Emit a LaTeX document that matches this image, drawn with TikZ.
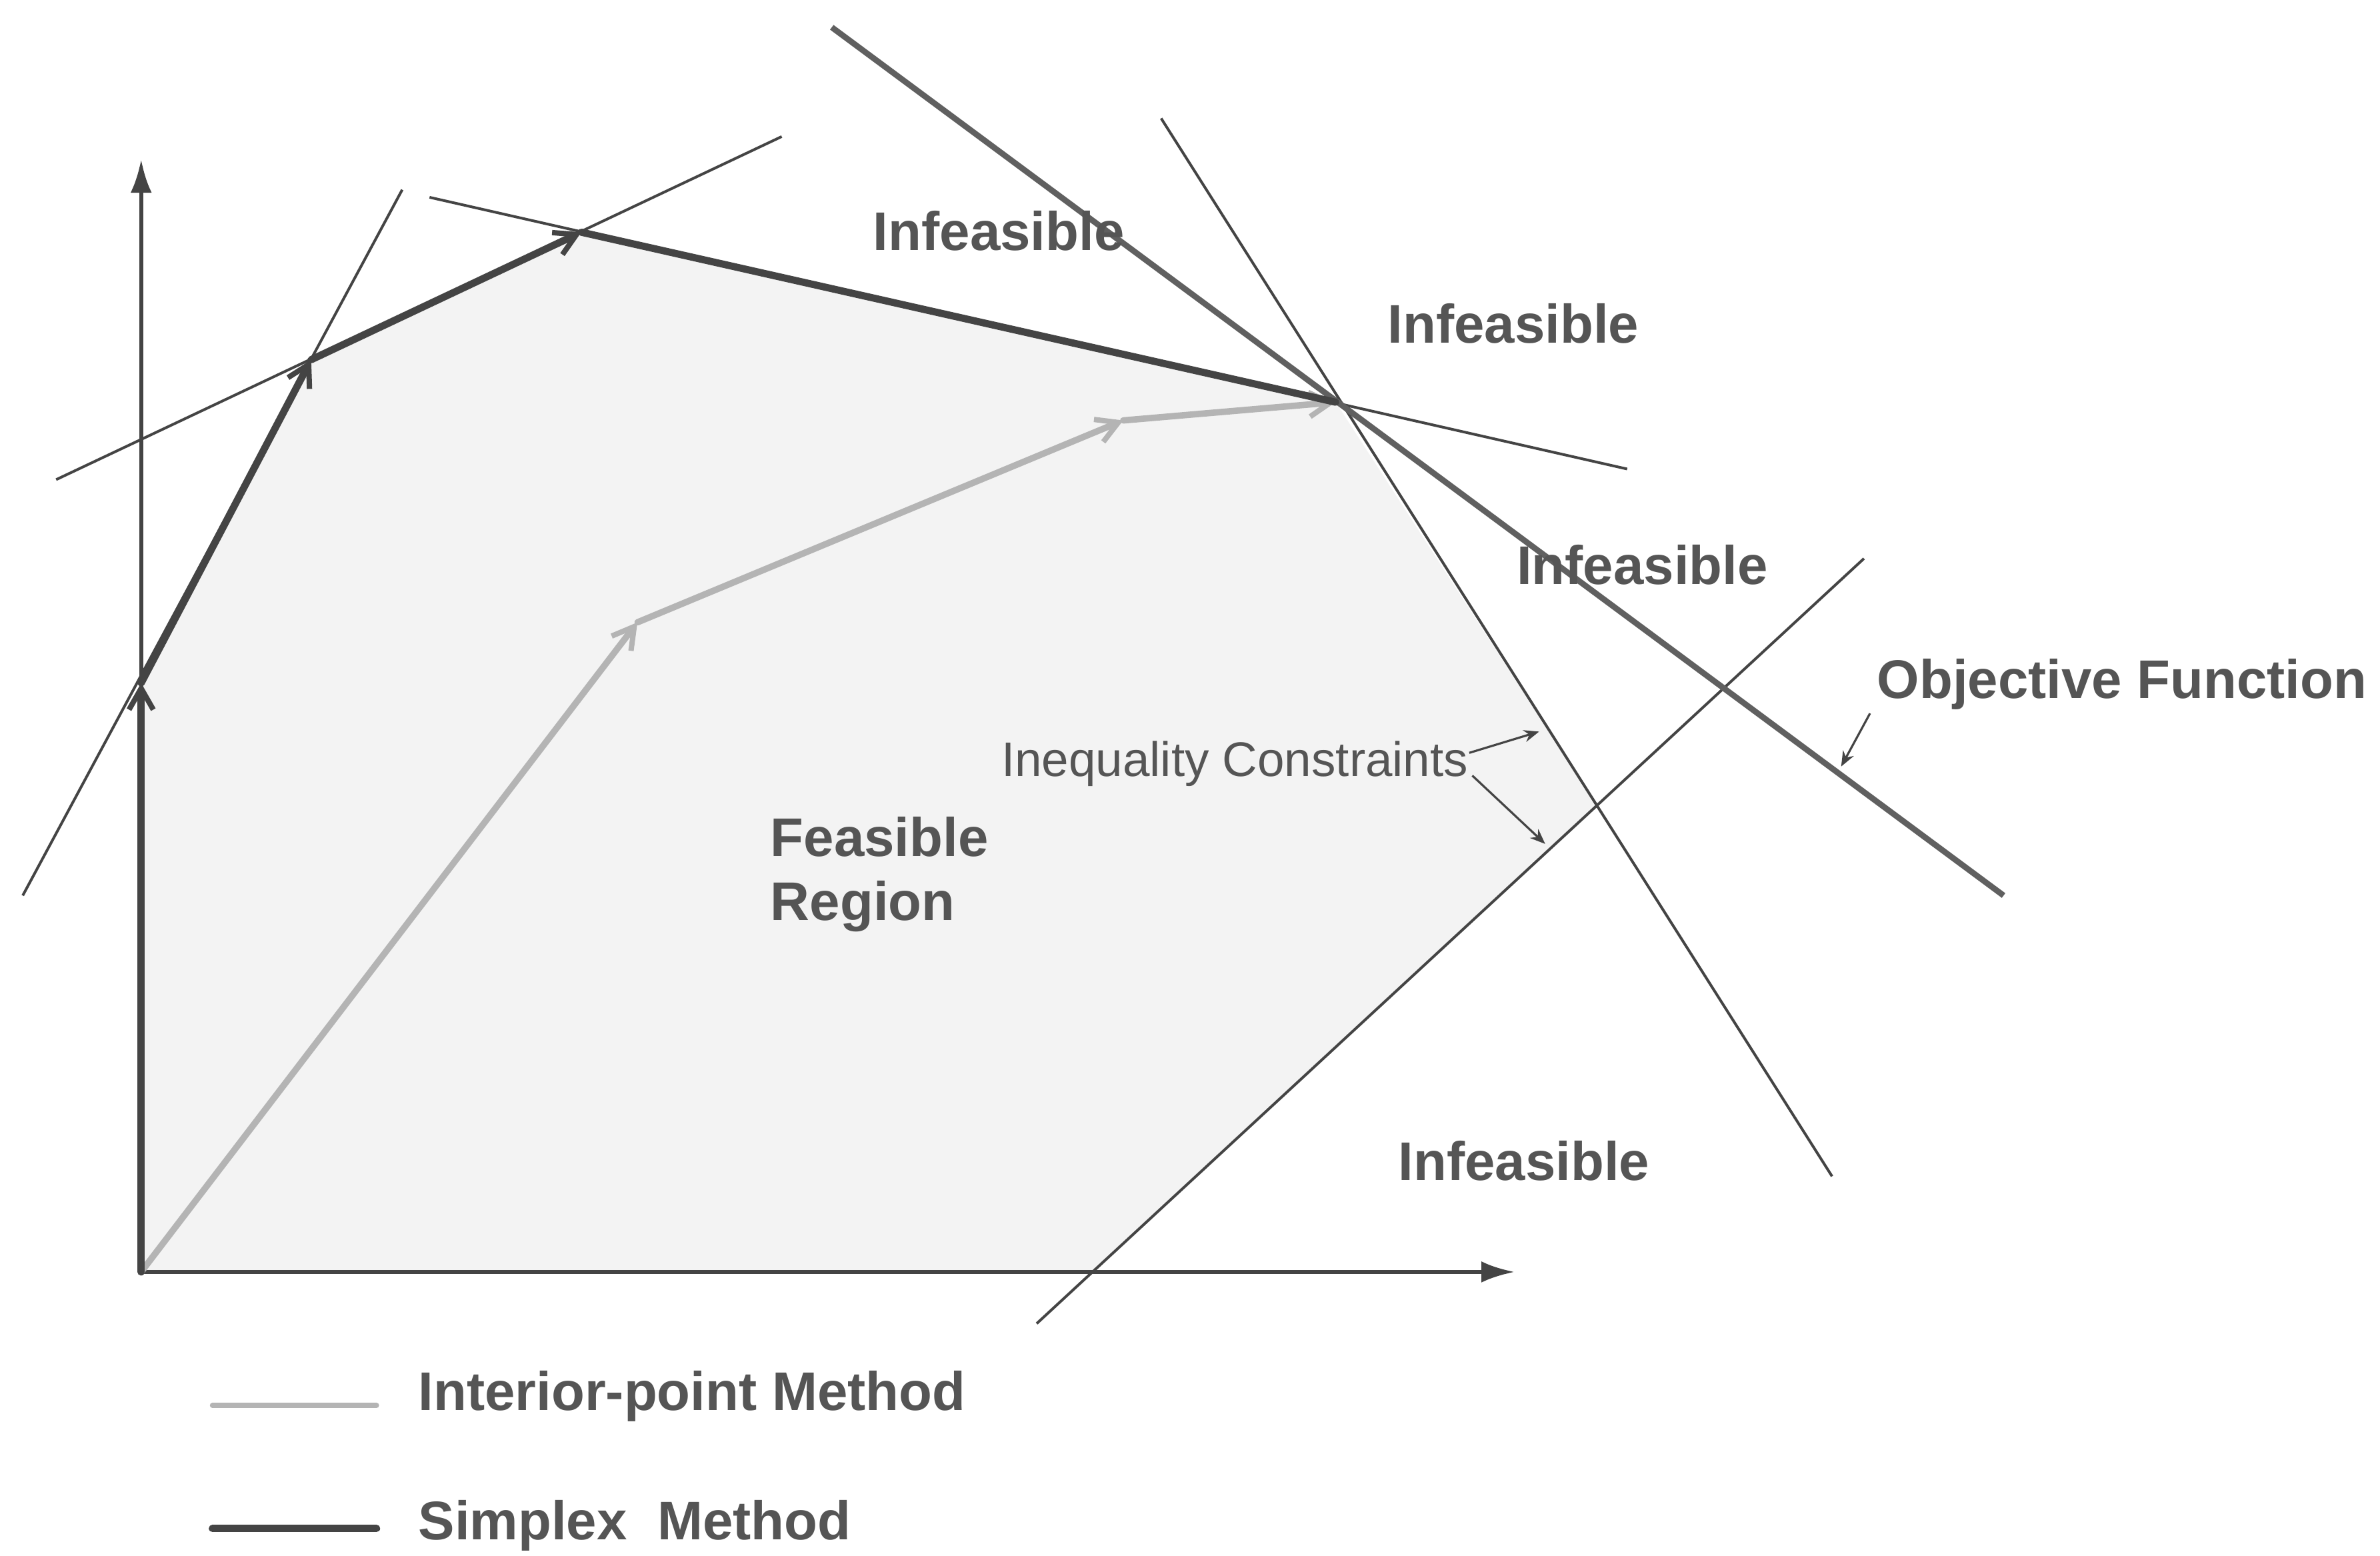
\documentclass[tikz,border=0pt]{standalone}
\usepackage{fontspec}
\setmainfont{Liberation Sans}
\usetikzlibrary{arrows.meta}
\definecolor{txt}{HTML}{555555}
\definecolor{dk}{HTML}{444444}
\definecolor{lt}{HTML}{B4B4B4}
\definecolor{reg}{HTML}{F3F3F3}
\tikzset{
  lbl/.style={text=txt, font=\fontsize{10.2}{12}\selectfont\bfseries, inner sep=0pt},
  small/.style={text=txt, font=\fontsize{9.1}{10}\selectfont, inner sep=0pt},
  cons/.style={draw=dk, line width=0.5pt},
  axis/.style={draw=dk, line width=0.8pt, -{Latex[length=2.2mm,width=1.4mm]}},
  simplex/.style={draw=dk, line width=1.35pt, line cap=round},
  interior/.style={draw=lt, line width=1.2pt, line cap=round},
  pathtip/.style={-{Straight Barb[length=1.4mm,width=1.6mm,line width=1pt]}},
  objective/.style={draw=dk!85, line width=1.1pt},
  pointer/.style={draw=dk, line width=0.4pt, -{Stealth[length=1mm,width=0.8mm]}}
}
\begin{document}
\begin{tikzpicture}[x=0.1mm,y=-0.1mm]
\useasboundingbox[fill=white] (0,0) rectangle (1568,1025);
% vertices
\coordinate (O) at (93,838);
\coordinate (A) at (93,450);
\coordinate (B) at (205,237);
\coordinate (C) at (383,153);
\coordinate (D) at (880,265);
\coordinate (E) at (1052,531);
\coordinate (F) at (720,838);
\coordinate (P1) at (420,410);
\coordinate (P2) at (740,277);
% feasible region
\fill[reg] (O) -- (A) -- (B) -- (C) -- (D) -- (E) -- (F) -- cycle;
% constraint lines
\coordinate (c1a) at (15,590);  \coordinate (c1b) at (265,125);
\coordinate (c2a) at (37,316);  \coordinate (c2b) at (515,90);
\coordinate (c3a) at (283,130); \coordinate (c3b) at (1072,309);
\coordinate (c4a) at (765,78);  \coordinate (c4b) at (1207,775);
\coordinate (c5a) at (683,872); \coordinate (c5b) at (1228,368);
\draw[cons] (c1a) -- (c1b);
\draw[cons] (c2a) -- (c2b);
\draw[cons] (c3a) -- (c3b);
\draw[cons] (c4a) -- (c4b);
\draw[cons] (c5a) -- (c5b);
% objective
\coordinate (obja) at (548,18); \coordinate (objb) at (1320,590);
\draw[objective] (obja) -- (objb);
% axes
\coordinate (yend) at (93,105);
\coordinate (xend) at (998,838);
\draw[axis] (O) -- (yend);
\draw[axis] (O) -- (xend);
% interior-point path
\draw[interior,pathtip] (O) -- (P1);
\draw[interior,pathtip] (P1) -- (P2);
\draw[interior,pathtip] (P2) -- (D);
% simplex path
\draw[simplex,pathtip] (O) -- (A);
\draw[simplex,pathtip] (A) -- (B);
\draw[simplex,pathtip] (B) -- (C);
\draw[simplex] (C) -- (D);
% labels
\node[lbl] (inf1) at (658,152) {Infeasible};
\node[lbl] (inf2) at (997,213) {Infeasible};
\node[lbl] (inf3) at (1082,372) {Infeasible};
\node[lbl] (inf4) at (1004,765) {Infeasible};
\node[lbl, anchor=west, align=left, font=\fontsize{10.2}{12}\selectfont\bfseries] (feas) at (507,576) {Feasible\\Region};
\node[lbl, anchor=west] (objf) at (1236,451) {Objective Function};
\node[small, anchor=west] (ineq) at (659,503) {Inequality Constraints};
% pointers
\coordinate (iq1s) at (968,496); \coordinate (iq1e) at (1014,482);
\coordinate (iq2s) at (970,511); \coordinate (iq2e) at (1018,556);
\coordinate (ofs) at (1232,470); \coordinate (ofe) at (1213,505);
\draw[pointer] (iq1s) -- (iq1e);
\draw[pointer] (iq2s) -- (iq2e);
\draw[pointer] (ofs) -- (ofe);
% legend
\coordinate (l1a) at (140,926); \coordinate (l1b) at (248,926);
\coordinate (l2a) at (140,1007); \coordinate (l2b) at (248,1007);
\draw[interior, line width=1pt] (l1a) -- (l1b);
\draw[simplex, line width=1.4pt] (l2a) -- (l2b);
\node[lbl, anchor=west] (leg1) at (275,920) {Interior-point Method};
\node[lbl, anchor=west] (leg2) at (275,1005) {Simplex\ \ Method};
\end{tikzpicture}
\end{document}
